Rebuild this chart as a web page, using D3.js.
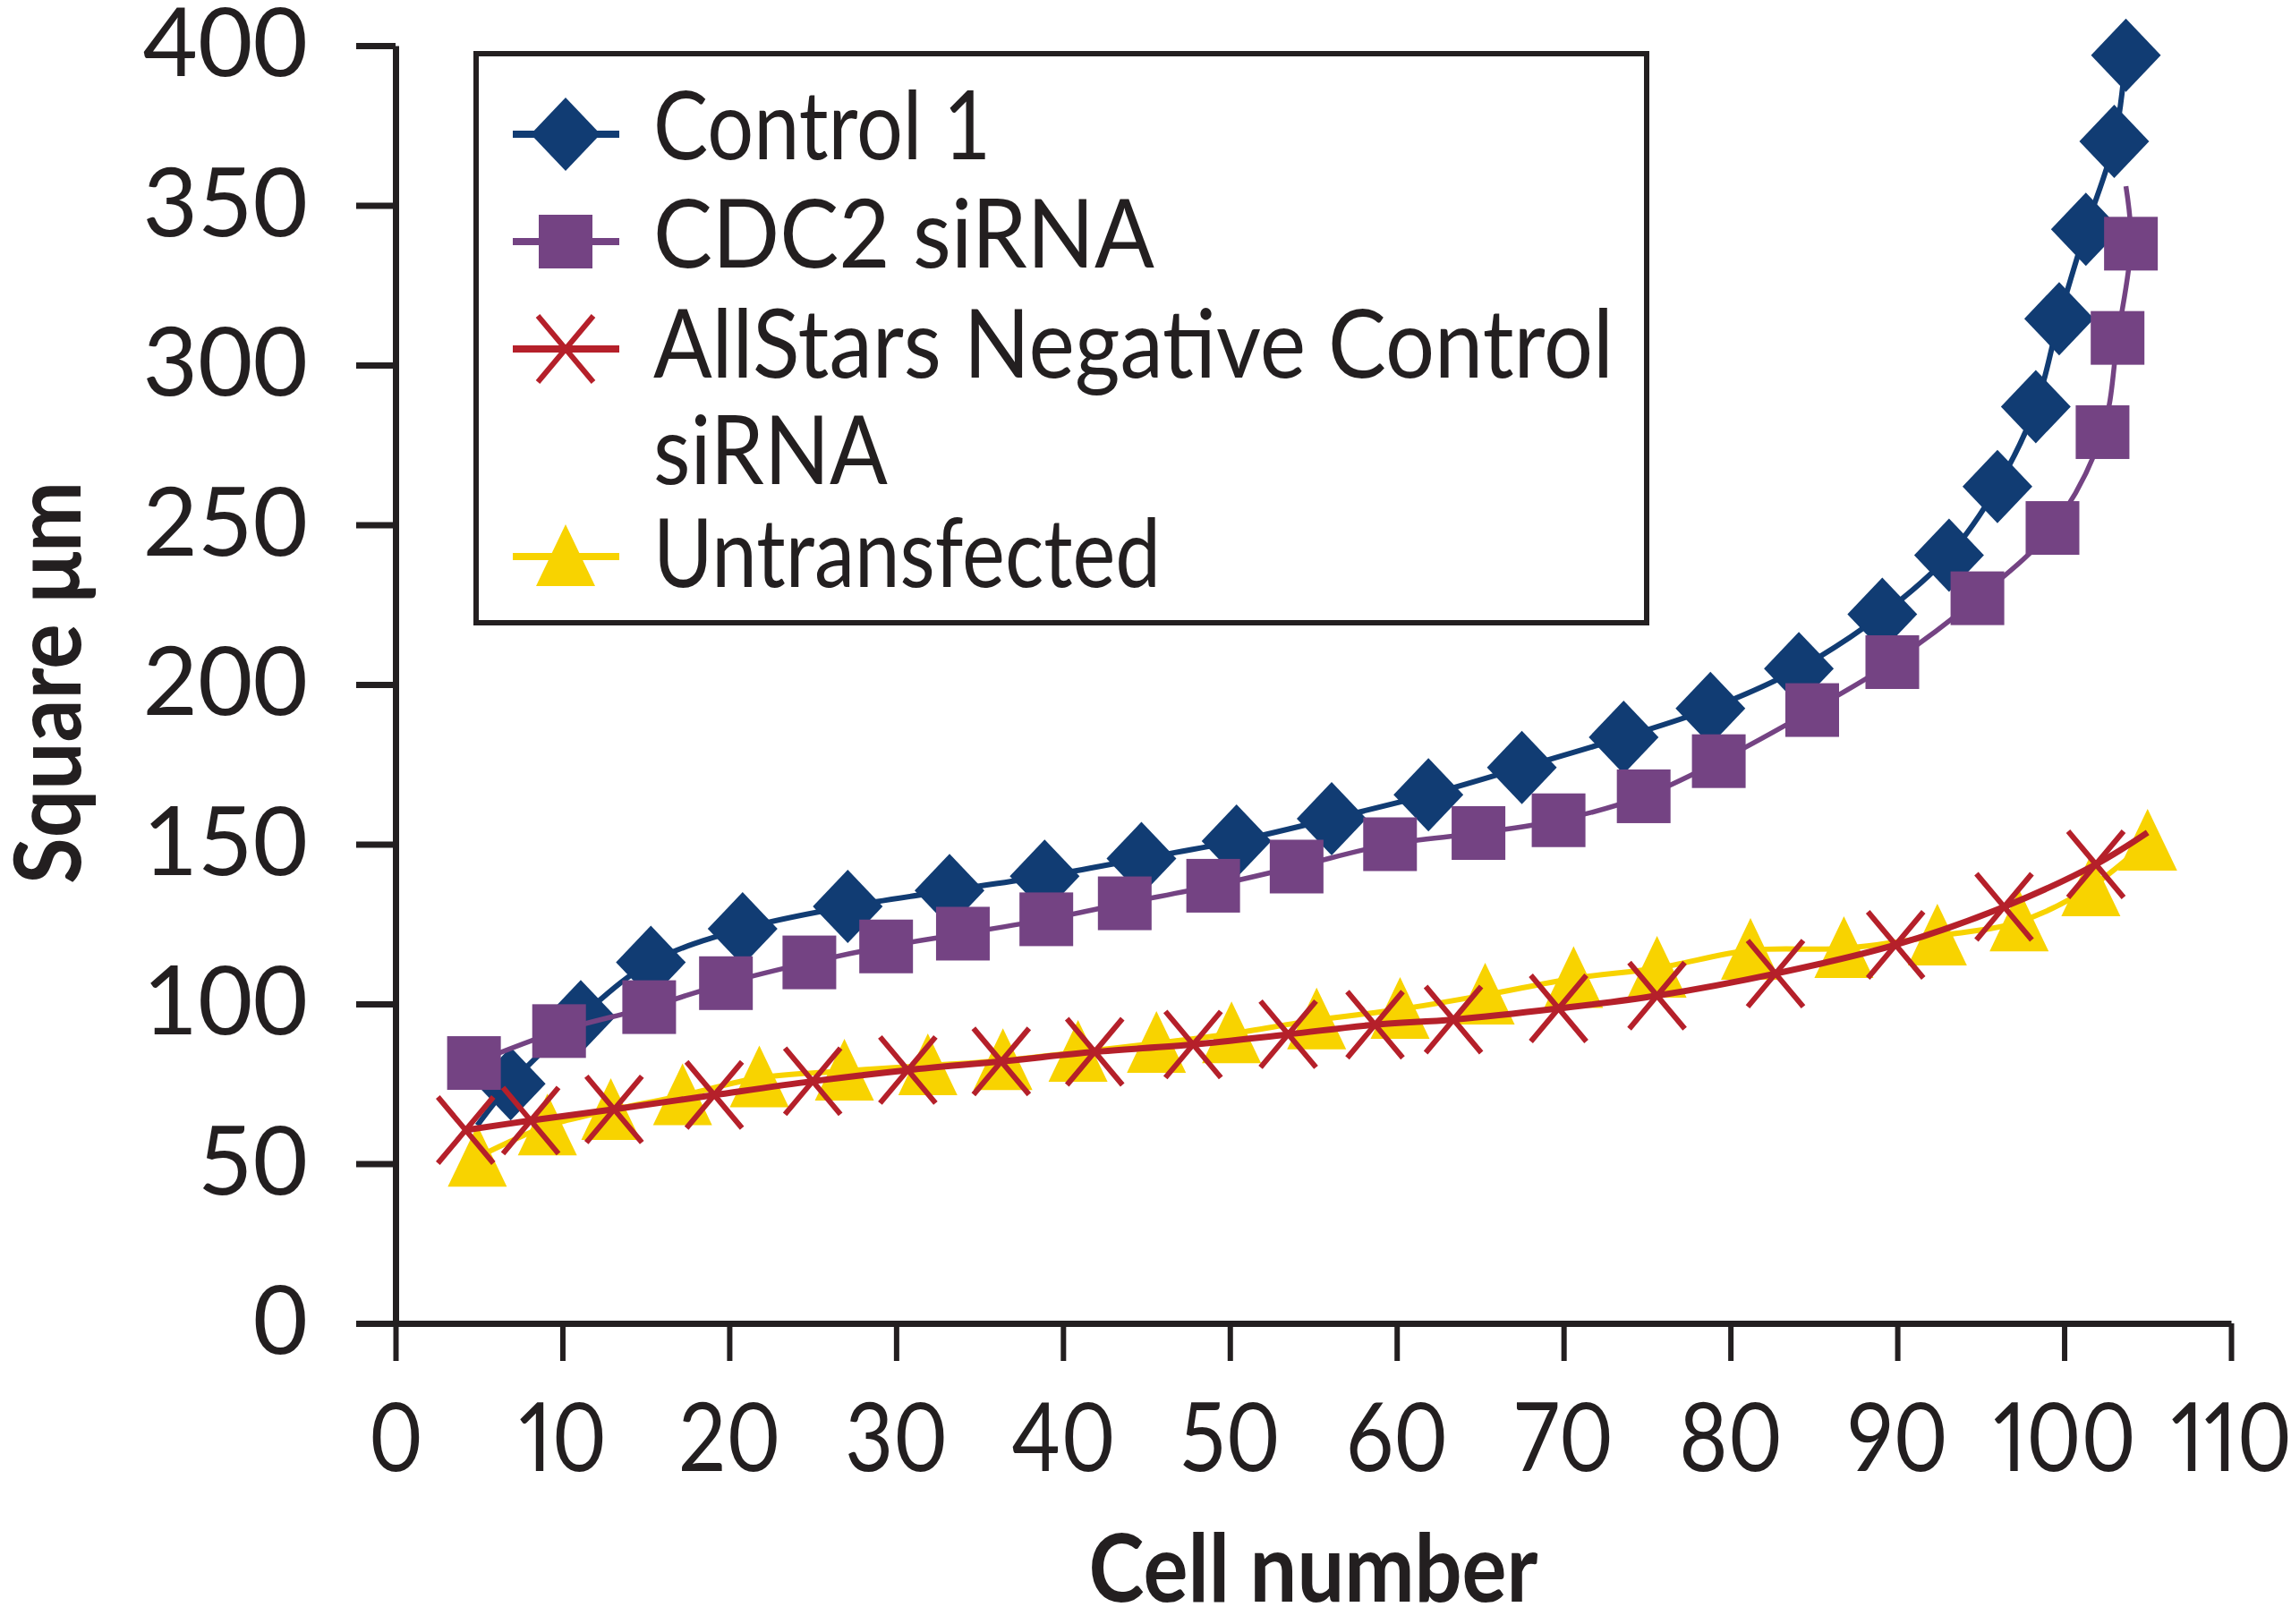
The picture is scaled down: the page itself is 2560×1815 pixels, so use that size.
<!DOCTYPE html>
<html>
<head>
<meta charset="utf-8">
<script src="https://cdn.jsdelivr.net/npm/d3@7"></script>
<style>
  body { margin: 0; background: #fff; }
  svg { display: block; }
  text { font-family: Lato, "DejaVu Sans", sans-serif; fill: #231f20; }
  .x-axis .tick text { font-feature-settings: "pnum" 1; font-variant-numeric: proportional-nums; }
</style>
</head>
<body>
<div id="chart"></div>
<script>
// Data (cell number, square µm)
const control1X = [6.9, 11.1, 15.3, 20.8, 27.1, 33.2, 38.9, 44.7, 50.4, 56.1, 61.9, 67.5, 73.6, 78.8, 84.1, 89.1, 93.1, 96.0, 98.3, 99.7, 101.3, 103.0, 103.7];
const control1Y = [75, 96, 113, 123.5, 130.5, 135.5, 140, 145.5, 151, 158, 165.5, 174, 183.5, 192.5, 205, 222, 240.5, 262, 287, 314.5, 342.5, 370, 397];
const control1LineStart = [4.9, 62];

const cdc2X = [4.7, 9.8, 15.2, 19.8, 24.8, 29.4, 34.0, 39.0, 43.7, 49.0, 54.0, 59.6, 64.9, 69.7, 74.8, 79.3, 84.9, 89.7, 94.8, 99.3, 102.3, 103.2, 104.0];
const cdc2Y = [81.5, 91.5, 99, 106.5, 113, 118, 122, 126.5, 131.5, 137, 143, 150, 153.5, 157.5, 165, 176, 192, 207, 227, 249, 279, 308.5, 338];
const cdc2LineEnd = [103.7, 356];

const allStarsX = [4.2, 8.1, 13.1, 19.1, 25.0, 30.7, 36.3, 41.9, 47.8, 53.5, 58.7, 63.4, 69.7, 75.6, 82.7, 89.9, 96.4, 101.9];
const allStarsY = [60.5, 63.5, 67, 71.5, 75.8, 79.3, 82, 85, 87.3, 90.5, 93.5, 95.1, 98.6, 102.6, 109.5, 118.5, 130.4, 143.7];
const allStarsLineEnd = [105.0, 153.7];

const untransX = [4.9, 9.1, 12.9, 17.2, 21.8, 26.9, 31.9, 36.4, 40.9, 45.6, 50.1, 55.2, 60.2, 65.3, 70.6, 75.6, 81.2, 86.8, 92.4, 97.3, 101.6, 105.0];
const untransY = [52, 61.8, 66.7, 71.3, 76.9, 79, 80.7, 82.3, 84.9, 87.7, 90.7, 95, 98.3, 102.8, 108, 111.2, 116.8, 117.4, 121.3, 125.7, 136.7, 151];

const xTickValues = [0, 10, 20, 30, 40, 50, 60, 70, 80, 90, 100, 110];
const yTickValues = [0, 50, 100, 150, 200, 250, 300, 350, 400];

const seriesNames = ["Control 1", "CDC2 siRNA", "AllStars Negative Control\nsiRNA", "Untransfected"];

const xTitle = "Cell number";
const yTitle = "Square μm";

/************************************
 * Layout
 ************************************/
const w = 2560;
const h = 1815;
const plotLeft = 442, plotRight = 2493, plotTop = 51, plotBottom = 1479;

const colors = ["#113c73", "#744383", "#b5202a", "#f8d300"];

const xScale = d3.scaleLinear().domain([0, 110]).range([plotLeft, plotRight]);
const yScale = d3.scaleLinear().domain([0, 400]).range([plotBottom, plotTop]);

const svg = d3.select("#chart")
  .append("svg")
  .attr("width", w)
  .attr("height", h);

svg.append("rect").attr("width", w).attr("height", h).attr("fill", "#fff");

// Axes
const xAxis = d3.axisBottom(xScale).tickValues(xTickValues).tickSize(42).tickSizeOuter(0).tickPadding(48);
const yAxis = d3.axisLeft(yScale).tickValues(yTickValues).tickSize(44).tickSizeOuter(0).tickPadding(54);

const gx = svg.append("g")
  .attr("class", "x-axis")
  .attr("transform", "translate(0," + plotBottom + ")")
  .call(xAxis);
gx.select(".domain").attr("stroke", "#231f20").attr("stroke-width", 7);
gx.selectAll(".tick line").attr("stroke", "#231f20").attr("stroke-width", 6);
gx.selectAll(".tick text").attr("font-size", 106).attr("fill", "#231f20").style("font-family", "Lato");
// the digits of the original are narrow: squeeze the labels a little
gx.selectAll(".tick text").each(function() {
  const len = this.getComputedTextLength();
  d3.select(this).attr("textLength", len * 0.88).attr("lengthAdjust", "spacingAndGlyphs");
});

const gy = svg.append("g")
  .attr("class", "y-axis")
  .attr("transform", "translate(" + plotLeft + ",0)")
  .call(yAxis);
gy.select(".domain").attr("stroke", "#231f20").attr("stroke-width", 7);
gy.selectAll(".tick line").attr("stroke", "#231f20").attr("stroke-width", 7);
gy.selectAll(".tick text").attr("font-size", 106).attr("fill", "#231f20").style("font-family", "Lato");

// Axis titles
svg.append("text")
  .attr("x", (plotLeft + plotRight) / 2)
  .attr("y", 1790)
  .attr("text-anchor", "middle")
  .attr("font-size", 106)
  .attr("font-weight", "bold")
  .attr("textLength", 502)
  .attr("lengthAdjust", "spacingAndGlyphs")
  .text(xTitle);

svg.append("text")
  .attr("transform", "translate(90,763) rotate(-90)")
  .attr("text-anchor", "middle")
  .attr("font-size", 104)
  .attr("font-weight", "bold")
  .attr("textLength", 450)
  .attr("lengthAdjust", "spacingAndGlyphs")
  .text(yTitle);

/************************************
 * Markers
 ************************************/
const drawMarker = (g, kind, color, x, y) => {
  if (kind === "diamond") {
    g.append("path")
      .attr("d", `M${x},${y - 41} L${x + 39},${y} L${x},${y + 41} L${x - 39},${y} Z`)
      .attr("fill", color);
  } else if (kind === "square") {
    g.append("rect")
      .attr("x", x - 30).attr("y", y - 30)
      .attr("width", 60).attr("height", 60)
      .attr("fill", color);
  } else if (kind === "x") {
    g.append("path")
      .attr("d", `M${x - 31},${y - 37} L${x + 31},${y + 37} M${x + 31},${y - 37} L${x - 31},${y + 37}`)
      .attr("stroke", color)
      .attr("stroke-width", 6)
      .attr("fill", "none");
  } else if (kind === "triangle") {
    g.append("path")
      .attr("d", `M${x},${y - 36} L${x + 33},${y + 33} L${x - 33},${y + 33} Z`)
      .attr("fill", color);
  }
};

const line = d3.line()
  .x(d => xScale(d[0]))
  .y(d => yScale(d[1]))
  .curve(d3.curveCatmullRom.alpha(0.5));

const series = [
  { xs: control1X, ys: control1Y, pre: [control1LineStart], post: [], kind: "diamond", color: colors[0], lw: 6 },
  { xs: cdc2X, ys: cdc2Y, pre: [], post: [cdc2LineEnd], kind: "square", color: colors[1], lw: 5.5 },
  { xs: untransX, ys: untransY, pre: [], post: [], kind: "triangle", color: colors[3], lw: 6 },
  { xs: allStarsX, ys: allStarsY, pre: [], post: [allStarsLineEnd], kind: "x", color: colors[2], lw: 7 }
];

series.forEach(s => {
  const pts = s.xs.map((x, i) => [x, s.ys[i]]);
  const g = svg.append("g");
  g.append("path")
    .datum(s.pre.concat(pts, s.post))
    .attr("d", line)
    .attr("fill", "none")
    .attr("stroke", s.color)
    .attr("stroke-width", s.lw);
  pts.forEach(p => drawMarker(g, s.kind, s.color, xScale(p[0]), yScale(p[1])));
});

/************************************
 * Legend
 ************************************/
const legend = svg.append("g");
legend.append("rect")
  .attr("x", 532).attr("y", 60)
  .attr("width", 1308).attr("height", 636)
  .attr("fill", "#fff")
  .attr("stroke", "#231f20")
  .attr("stroke-width", 6);

const legendKinds = ["diamond", "square", "x", "triangle"];
const legendColors = [colors[0], colors[1], colors[2], colors[3]];
const legendRowY = [150, 270, 390, 622];
const legendLineY = [[178], [299], [422, 541], [656]];
const legendWidths = [[377], [560], [1073, 262], [567]];

seriesNames.forEach((name, i) => {
  legend.append("line")
    .attr("x1", 573).attr("x2", 692)
    .attr("y1", legendRowY[i]).attr("y2", legendRowY[i])
    .attr("stroke", legendColors[i])
    .attr("stroke-width", 8);
  drawMarker(legend, legendKinds[i], legendColors[i], 632, legendRowY[i]);
  name.split("\n").forEach((part, j) => {
    legend.append("text")
      .attr("x", 730)
      .attr("y", legendLineY[i][j])
      .attr("font-size", 106)
      .attr("textLength", legendWidths[i][j])
      .attr("lengthAdjust", "spacingAndGlyphs")
      .text(part);
  });
});
</script>
</body>
</html>
